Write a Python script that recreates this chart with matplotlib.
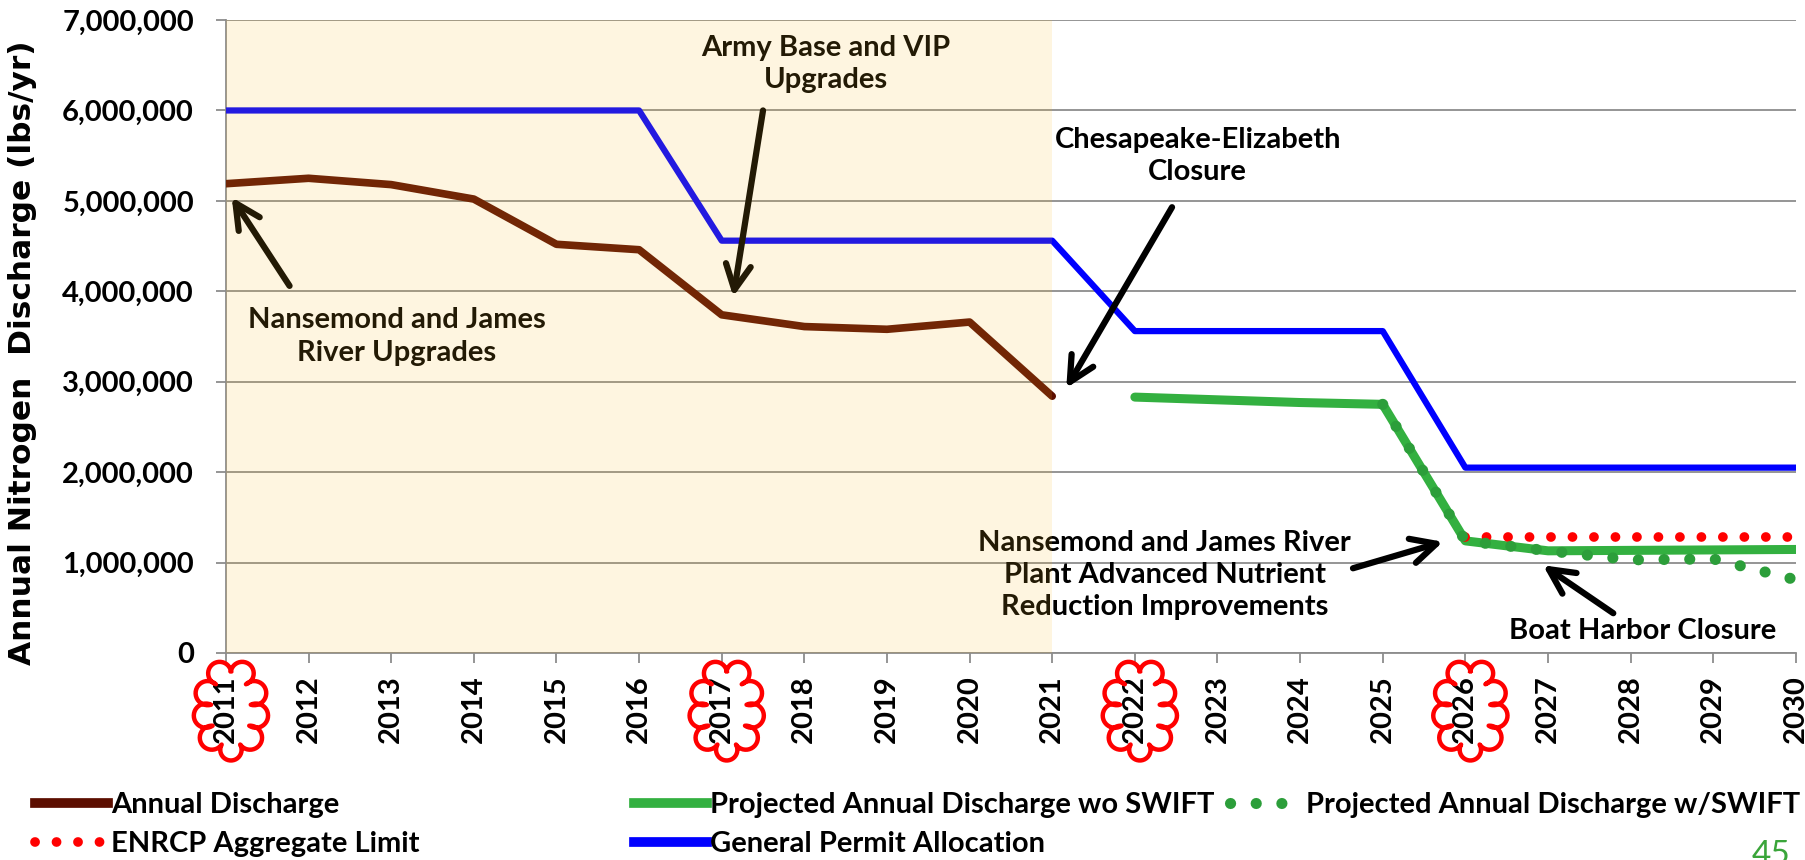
import numpy as np
import matplotlib
matplotlib.use('Agg')
import matplotlib.pyplot as plt
from matplotlib.lines import Line2D
from matplotlib.ticker import FuncFormatter

plt.rcParams['font.family'] = ['Lato', 'DejaVu Sans']
plt.rcParams['font.weight'] = 'bold'

# ---- data (lbs/yr) ----
years = list(range(2011, 2031))

hist_years = [2011, 2012, 2013, 2014, 2015, 2016, 2017, 2018, 2019, 2020, 2021]
annual_discharge = [5190000, 5250000, 5180000, 5020000, 4520000, 4460000,
                    3740000, 3610000, 3580000, 3660000, 2840000]

permit_allocation = [6000000, 6000000, 6000000, 6000000, 6000000, 6000000,
                     4560000, 4560000, 4560000, 4560000, 4560000,
                     3560000, 3560000, 3560000, 3560000,
                     2050000, 2050000, 2050000, 2050000, 2050000]

proj_years = [2022, 2023, 2024, 2025, 2026, 2027, 2028, 2029, 2030]
proj_wo_swift = [2830000, 2800000, 2770000, 2750000, 1240000,
                 1130000, 1135000, 1140000, 1145000]

swift_years = [2025, 2026, 2027, 2028, 2029, 2030]
proj_w_swift = [2750000, 1240000, 1130000, 1030000, 1040000, 810000]

enrcp_years = [2026, 2027, 2028, 2029, 2030]
enrcp_limit = [1280000, 1280000, 1280000, 1280000, 1280000]

cloud_years = [2011, 2017, 2022, 2026]

BROWN = '#5C0E00'
BLUE = '#0000FF'
GREEN = '#33B040'
GREEN_DOT = '#2C9E3A'
RED = '#FF0000'
TXT = 21

fig = plt.figure(figsize=(18.06, 8.60), dpi=100)
ax = fig.add_axes([0.1251, 0.2407, 0.8693, 0.7360])

ax.plot(years, permit_allocation, color=BLUE, lw=4.5, solid_capstyle='round',
        solid_joinstyle='round', zorder=4, label='General Permit Allocation')
ax.plot(hist_years, annual_discharge, color=BROWN, lw=5.5, solid_capstyle='round',
        solid_joinstyle='round', zorder=4, label='Annual Discharge')
ax.plot(proj_years, proj_wo_swift, color=GREEN, lw=6.5, solid_capstyle='round',
        solid_joinstyle='round', zorder=4, label='Projected Annual Discharge wo SWIFT')
ax.plot(enrcp_years, enrcp_limit, color=RED, lw=7, linestyle=(0, (0.01, 2.2)),
        dash_capstyle='round', zorder=5, label='ENRCP Aggregate Limit')
ax.plot(swift_years, proj_w_swift, color=GREEN_DOT, lw=8, linestyle=(0, (0.01, 2.3)),
        dash_capstyle='round', zorder=5, label='Projected Annual Discharge w/SWIFT')

# historical period shading laid over everything in that span
ax.axvspan(2011, 2021, color='#FABA24', alpha=0.14, lw=0, zorder=10)

ax.set_xlim(2011, 2030)
ax.set_ylim(0, 7000000)
ax.set_xticks(years)
ax.set_xticklabels([str(y) for y in years], rotation=90, fontsize=TXT, fontweight='bold')
ax.set_yticks(np.arange(0, 7000001, 1000000))
ax.yaxis.set_major_formatter(FuncFormatter(lambda v, p: f'{v:,.0f}'))
for lab in ax.get_yticklabels():
    lab.set_fontsize(TXT)
    lab.set_fontweight('bold')
ax.tick_params(axis='y', length=7, width=1.3, color='#8C8C8C', pad=16)
ax.tick_params(axis='x', length=7, width=1.3, color='#8C8C8C', pad=9)
ax.grid(axis='y', color='#8C8C8C', lw=1.3, zorder=1)
ax.set_axisbelow(True)
for side in ['top', 'right']:
    ax.spines[side].set_visible(False)
for side in ['left', 'bottom']:
    ax.spines[side].set_color('#8C8C8C')
    ax.spines[side].set_linewidth(1.3)

ax.set_ylabel('Annual Nitrogen  Discharge (lbs/yr)', fontsize=22.5, fontweight='bold',
              family='DejaVu Sans')
ax.yaxis.set_label_coords(-0.1204, 0.475)

# ---- annotations ----
notes = [
    ('Nansemond and James\nRiver Upgrades', (2013.07, 3500000),
     (2011.77, 4060000), (2011.07, 5040000)),
    ('Army Base and VIP\nUpgrades', (2018.26, 6510000),
     (2017.50, 6000000), (2017.14, 3940000)),
    ('Chesapeake-Elizabeth\nClosure', (2022.76, 5500000),
     (2022.45, 4930000), (2021.17, 2930000)),
    ('Nansemond and James River\nPlant Advanced Nutrient\nReduction Improvements',
     (2022.36, 862000), (2024.64, 937000), (2025.73, 1230000)),
    ('Boat Harbor Closure', (2028.15, 240000),
     (2027.79, 440000), (2026.94, 970000)),
]
for text, pos, tail, tip in notes:
    ax.text(pos[0], pos[1], text, ha='center', va='center', fontsize=TXT,
            fontweight='bold', color='black', linespacing=1.3, zorder=6)
    ax.annotate('', xy=tip, xytext=tail,
                arrowprops=dict(arrowstyle='->, head_length=0.9, head_width=0.45',
                                lw=4.5, color='black', shrinkA=0, shrinkB=0,
                                mutation_scale=20),
                zorder=6)

# ---- red clouds round selected year labels ----
def cloud_outline(cx, cy, rx, ry, n=9, bulge=1.15):
    # points spaced evenly along the ellipse, joined by outward arcs
    tt = np.linspace(0, 2 * np.pi, 721) + np.pi / 2
    ex, ey = rx * np.cos(tt), ry * np.sin(tt)
    seg = np.hypot(np.diff(ex), np.diff(ey))
    s = np.concatenate([[0], np.cumsum(seg)])
    targets = np.linspace(0, s[-1], n + 1)
    px = cx + np.interp(targets, s, ex)
    py = cy + np.interp(targets, s, ey)
    xs, ys = [], []
    for i in range(n):
        x0, y0, x1, y1 = px[i], py[i], px[i + 1], py[i + 1]
        mx, my = (x0 + x1) / 2, (y0 + y1) / 2
        dx, dy = x1 - x0, y1 - y0
        h = np.hypot(dx, dy) / 2
        nx, ny = dy / (2 * h), -dx / (2 * h)
        r = bulge * h
        off = np.sqrt(r ** 2 - h ** 2)
        ccx, ccy = mx + nx * off, my + ny * off
        a0 = np.arctan2(y0 - ccy, x0 - ccx)
        a1 = np.arctan2(y1 - ccy, x1 - ccx)
        while a1 <= a0:
            a1 += 2 * np.pi
        ang = np.linspace(a0, a1, 24)
        xs.extend(ccx + r * np.cos(ang))
        ys.extend(ccy + r * np.sin(ang))
    return np.array(xs), np.array(ys)

W, H = fig.get_size_inches() * fig.dpi
for cy_year in cloud_years:
    x_px = ax.transData.transform((cy_year, 0))[0] + 5
    xs, ys = cloud_outline(x_px, H - 710, 20, 39)
    fig.add_artist(Line2D(xs / W, ys / H, transform=fig.transFigure,
                          color=RED, lw=3.2, solid_joinstyle='round'))

# ---- legend ----
LEG = 21
h_brown = Line2D([], [], color=BROWN, lw=7)
h_red = Line2D([], [], color=RED, lw=7, linestyle=(0, (0.01, 2.2)), dash_capstyle='round')
h_green = Line2D([], [], color=GREEN, lw=7)
h_blue = Line2D([], [], color=BLUE, lw=7)
h_gdot = Line2D([], [], color=GREEN_DOT, lw=8, linestyle=(0, (0.01, 2.3)), dash_capstyle='round')

leg_kw = dict(frameon=False, handlelength=2.5, handletextpad=0.1,
              borderpad=0, borderaxespad=0, labelspacing=0.45, loc='upper left',
              prop={'weight': 'bold', 'size': LEG})
leg1 = fig.legend([h_brown, h_red], ['Annual Discharge', 'ENRCP Aggregate Limit'],
                  bbox_to_anchor=(35 / W, 1 - 792 / H), **leg_kw)
leg2 = fig.legend([h_green, h_blue, h_gdot],
                  ['Projected Annual Discharge wo SWIFT', 'General Permit Allocation',
                   'Projected Annual Discharge w/SWIFT'],
                  ncol=2, columnspacing=0.55,
                  bbox_to_anchor=(634 / W, 1 - 792 / H), **leg_kw)

fig.text(1752 / W, 1 - 840 / H, '45', color='#3AA53A', fontsize=24,
         fontweight='normal', va='top', ha='left')

fig.savefig('out.png', dpi=100)
